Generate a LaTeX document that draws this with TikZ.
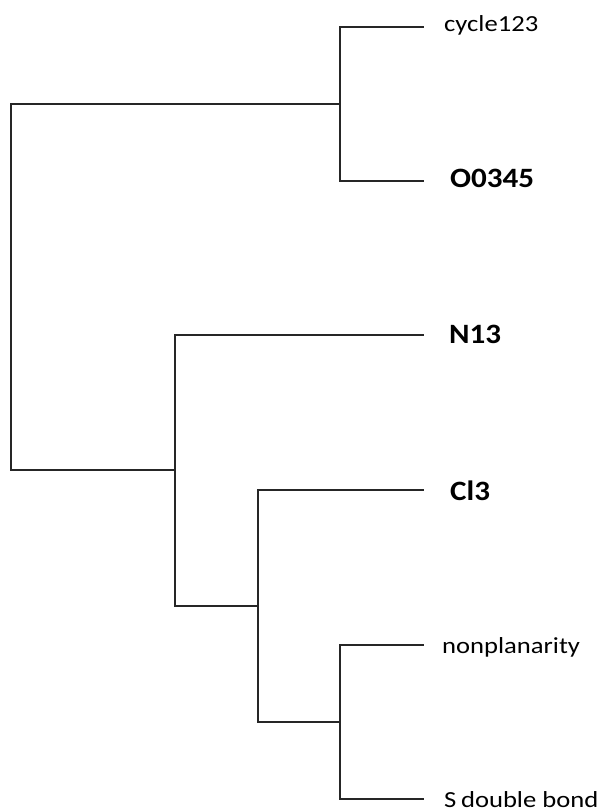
\documentclass[tikz,border=0pt]{standalone}
\usepackage{fontspec}
\newfontfamily\labfont[FakeStretch=1.157]{Carlito}
\newfontfamily\boldlabfont[FakeStretch=1.11]{Carlito}
\tikzset{
  branch/.style={line width=1.8pt, draw=black!85, line cap=rect},
  leaflab/.style={anchor=base west, inner sep=0pt, font=\labfont\fontsize{23}{27}\selectfont},
  boldlab/.style={anchor=base west, inner sep=0pt, font=\boldlabfont\bfseries\fontsize{28}{31}\selectfont},
}
\begin{document}
\begin{tikzpicture}[x=1pt, y=-1pt]
\useasboundingbox (0,0) rectangle (600,812);
% joints
\coordinate (root) at (11,103.9);
\coordinate (rootb) at (11,470);
\coordinate (A) at (340,103.9);
\coordinate (B) at (175,470);
\coordinate (C) at (258,606);
\coordinate (D) at (340,722);
% leaf ends
\coordinate (e1) at (423,26.7);
\coordinate (e2) at (423,181);
\coordinate (e3) at (423,335);
\coordinate (e4) at (423,490);
\coordinate (e5) at (423,645);
\coordinate (e6) at (423,799);
% labels
\node[leaflab] (l1) at (444,31.7) {cycle123};
\node[boldlab] (l2) at (450,187) {O0345};
\node[boldlab] (l3) at (449,343) {N13};
\node[boldlab] (l4) at (450,500.5) {Cl3};
\node[leaflab] (l5) at (442,653) {nonplanarity};
\node[leaflab] (l6) at (444,807) {S\hspace{-0.06em} double bond};
% tree
\draw[branch] (root) -- (rootb);
\draw[branch] (root) -- (A);
\draw[branch] (rootb) -- (B);
\draw[branch] (e1) -| (A) |- (e2);
\draw[branch] (e3) -| (B) |- (C);
\draw[branch] (e4) -| (C) |- (D);
\draw[branch] (e5) -| (D) |- (e6);
\end{tikzpicture}
\end{document}
